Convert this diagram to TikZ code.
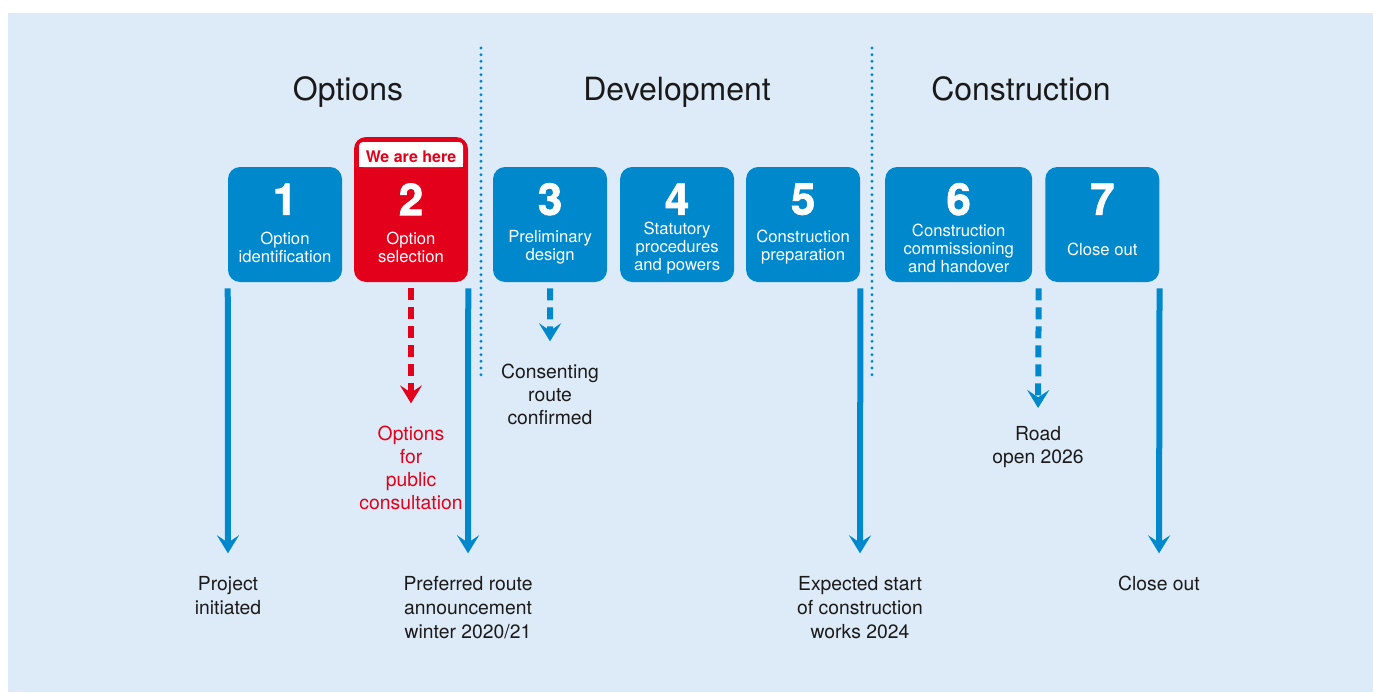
\documentclass[tikz,border=0pt]{standalone}
\usepackage{fontspec}
\setmainfont{TeX Gyre Heros}
\newfontfamily\numfont{texgyreheros-bold.otf}[FakeBold=1.5]
\usetikzlibrary{positioning, arrows.meta, calc}

\definecolor{stageblue}{RGB}{0,136,204}
\definecolor{stagered}{RGB}{226,0,26}
\definecolor{panelbg}{RGB}{221,235,248}
\definecolor{notetext}{RGB}{26,26,26}

\begin{document}
\begin{tikzpicture}[
    x=0.75pt, y=-0.75pt,% one unit = one pixel, y runs down
     stage/.style = {fill=stageblue, rounded corners=9pt, inner sep=0pt,
                     minimum width=85.5pt, minimum height=86.25pt},
    digit/.style = {text=white, inner sep=0pt, font=\numfont\fontsize{33}{33}\selectfont},
    stagelbl/.style = {text=white, align=center, inner sep=0pt,
                     font=\fontsize{12.5}{13.5}\selectfont},
    phase/.style = {anchor=base, text=notetext, font=\fontsize{24}{28}\selectfont},
     note/.style = {anchor=north, align=center, inner sep=0pt, text=notetext,
                     font=\fontsize{14.5}{18}\selectfont},
    tight/.style = {font=\fontsize{14.5}{17.25}\selectfont},
     flow/.style = {draw=stageblue, line width=4.5pt, shorten <=4.5pt, shorten >=17pt,
                     -{Stealth[length=13.5pt, width=16.5pt, inset=5.5pt]}},
    event/.style = {flow, dash pattern=on 9pt off 5.25pt},
  divider/.style = {draw=stageblue, line width=2.4pt, line cap=round,
                     dash pattern=on 0pt off 5pt}
    ]
    % panel
    \useasboundingbox (0,0) rectangle (1373,692);
    \fill[panelbg] (8,13) rectangle (1373,692);

    % phase separators and titles
    \draw[divider] (481,48) -- (481,378);
    \draw[divider] (872,48) -- (872,378);
    \node [phase] at (348,100) {Options};
    \node [phase] at (677,100) {Development};
    \node [phase] at (1021,100) {Construction};

    % stages
    \node (n1) [stage] at (285,224.5) {};
    \node (n2) [stage, fill=stagered, minimum height=108.75pt,
                right=8.6pt of n1.south east, anchor=south west] {};
    \node (n3) [stage, right=18.4pt of n2.south east, anchor=south west] {};
    \node (n4) [stage, right=9.4pt of n3.south east, anchor=south west] {};
    \node (n5) [stage, right=8.6pt of n4.south east, anchor=south west] {};
    \node (n6) [stage, minimum width=110.25pt,
                right=18.4pt of n5.south east, anchor=south west] {};
    \node (n7) [stage, right=9.4pt of n6.south east, anchor=south west] {};

    % "we are here" tab on stage 2
    \node (tab) [fill=white, rounded corners=3pt, minimum width=78pt,
                 minimum height=18.75pt, inner sep=0pt] at (411,154.5) {};
    \fill[white] (tab.west) rectangle (tab.south east);
    \node (here) [anchor=base, text=stagered, font=\bfseries\fontsize{12}{14}\selectfont]
        at (411,162) {We are here};

    \node (d1) [digit] at ([yshift=62.25pt]n1.south) {1};
    \node (d2) [digit] at ([yshift=62.25pt]n2.south) {2};
    \node (d3) [digit] at ([yshift=62.25pt]n3.south) {3};
    \node (d4) [digit] at ([yshift=62.25pt]n4.south) {4};
    \node (d5) [digit] at ([yshift=62.25pt]n5.south) {5};
    \node (d6) [digit] at ([yshift=62.25pt]n6.south) {6};
    \node (d7) [digit] at ([yshift=62.25pt]n7.south) {7};

    \node (l1) [stagelbl] at ([yshift=26.25pt]n1.south) {Option\\identification};
    \node (l2) [stagelbl] at ([yshift=26.25pt]n2.south) {Option\\selection};
    \node (l3) [stagelbl] at ([yshift=26.25pt]n3.south) {Preliminary\\design};
    \node (l4) [stagelbl] at ([yshift=25.5pt]n4.south) {Statutory\\procedures\\and powers};
    \node (l5) [stagelbl] at ([yshift=26.25pt]n5.south) {Construction\\preparation};
    \node (l6) [stagelbl] at ([yshift=25.5pt]n6.south) {Construction\\commissioning\\and handover};
    \node (l7) [stagelbl] at ([yshift=24.75pt]n7.south) {Close out};

    % milestones
    \node (start)  [note] at (228,576) {Project\\initiated};
    \node (route)  [note] at (468,576) {Preferred route\\announcement\\winter 2020/21};
    \node (works)  [note] at (860,576) {Expected start\\of construction\\works 2024};
    \node (close)  [note] at (1159,576) {Close out};
    \node (consult) [note, tight, text=stagered] at (411,426) {Options\\for\\public\\consultation};
    \node (consent) [note, tight] at (550,364) {Consenting\\route\\confirmed};
    \node (open)   [note, tight] at (1038,426) {Road\\open 2026};
    \coordinate (gap) at ($(n6.south east)!0.5!(n7.south west)$);

    \draw[flow] (n1.south west) -- (start.north);
    \draw[flow] (n2.south east) -- (route.north);
    \draw[flow] (n5.south east) -- (works.north);
    \draw[flow] (n7.south east) -- (close.north);
    \draw[event, draw=stagered] (n2.south) -- (consult.north);
    \draw[event] (n3.south) -- (consent.north);
    \draw[event, shorten >=13.5pt] (gap) -- (open.north);
\end{tikzpicture}
\end{document}
